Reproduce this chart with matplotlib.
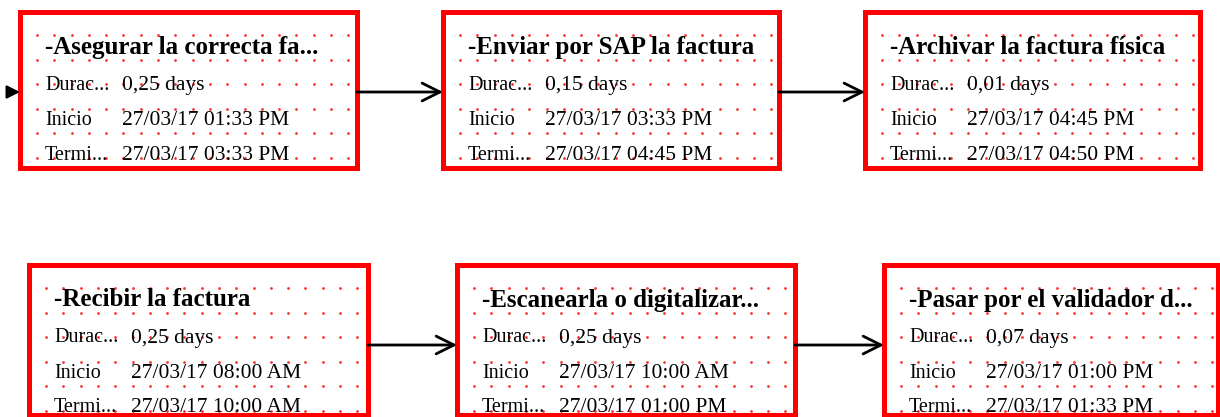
import numpy as np
import matplotlib.pyplot as plt
from matplotlib.patches import Rectangle

# task data
tasks = ["-Asegurar la correcta fa...", "-Enviar por SAP la factura", "-Archivar la factura física",
         "-Recibir la factura", "-Escanearla o digitalizar...", "-Pasar por el validador d..."]
durations = ["0,25 days", "0,15 days", "0,01 days", "0,25 days", "0,25 days", "0,07 days"]
starts = ["27/03/17 01:33 PM", "27/03/17 03:33 PM", "27/03/17 04:45 PM",
          "27/03/17 08:00 AM", "27/03/17 10:00 AM", "27/03/17 01:00 PM"]
ends = ["27/03/17 03:33 PM", "27/03/17 04:45 PM", "27/03/17 04:50 PM",
        "27/03/17 10:00 AM", "27/03/17 01:00 PM", "27/03/17 01:33 PM"]
labels = ["Durac...", "Inicio", "Termi..."]

# box layout in pixel coords (x0, y0, width, height), y grows downward
boxes = [(20, 12, 337, 156), (443, 12, 336, 156), (865, 12, 335, 156),
         (29, 265, 339, 150), (457, 265, 338, 150), (884, 265, 334, 150)]
links = [(0, 1), (1, 2), (3, 4), (4, 5)]

fig = plt.figure(figsize=(12.2, 4.17), dpi=100)
ax = fig.add_axes([0, 0, 1, 1])
ax.set_xlim(0, 1220)
ax.set_ylim(417, 0)
ax.axis("off")

serif = ["Liberation Serif", "DejaVu Serif"]

for i, (x0, y0, w, h) in enumerate(boxes):
    clip = Rectangle((x0, y0), w, h, transform=ax.transData, facecolor="none", edgecolor="none")
    ax.add_patch(clip)
    # dotted red grid
    gx, gy = np.meshgrid(np.arange(x0 + 17, x0 + w - 4, 17.3), np.arange(y0 + 23, y0 + h - 2, 24.5))
    ax.scatter(gx.ravel(), gy.ravel(), s=4, color="#ff3030", linewidths=0, zorder=2)

    t = ax.text(x0 + 25, y0 + 35, tasks[i], fontsize=18, fontweight="bold", family=serif,
                va="center", ha="left", color="black", zorder=3)
    t.set_clip_path(clip)
    vals = [durations[i], starts[i], ends[i]]
    for j, (lab, val) in enumerate(zip(labels, vals)):
        yy = y0 + 73 + j * 35
        a = ax.text(x0 + 25, yy, lab, fontsize=14.5, family=serif,
                    va="center", ha="left", color="black", zorder=3)
        b = ax.text(x0 + 102, yy, val, fontsize=15.5, family=serif,
                    va="center", ha="left", color="black", zorder=3)
        a.set_clip_path(clip)
        b.set_clip_path(clip)

    ax.add_patch(Rectangle((x0, y0), w, h, facecolor="none", edgecolor="#ff0000", lw=3.6, zorder=4))

for s, e in links:
    xs = boxes[s][0] + boxes[s][2]
    xe = boxes[e][0]
    yy = boxes[s][1] + 80
    ax.annotate("", xy=(xe, yy), xytext=(xs, yy),
                arrowprops=dict(arrowstyle="->", lw=2, color="black", mutation_scale=32,
                                shrinkA=0, shrinkB=0), zorder=5)

# incoming arrow on the first box (only its head is visible)
ax.annotate("", xy=(boxes[0][0], boxes[0][1] + 80), xytext=(8, boxes[0][1] + 80),
            arrowprops=dict(arrowstyle="-|>", lw=1.5, color="black", mutation_scale=20,
                            shrinkA=0, shrinkB=0), zorder=5)

fig.savefig("out.png", dpi=100)
